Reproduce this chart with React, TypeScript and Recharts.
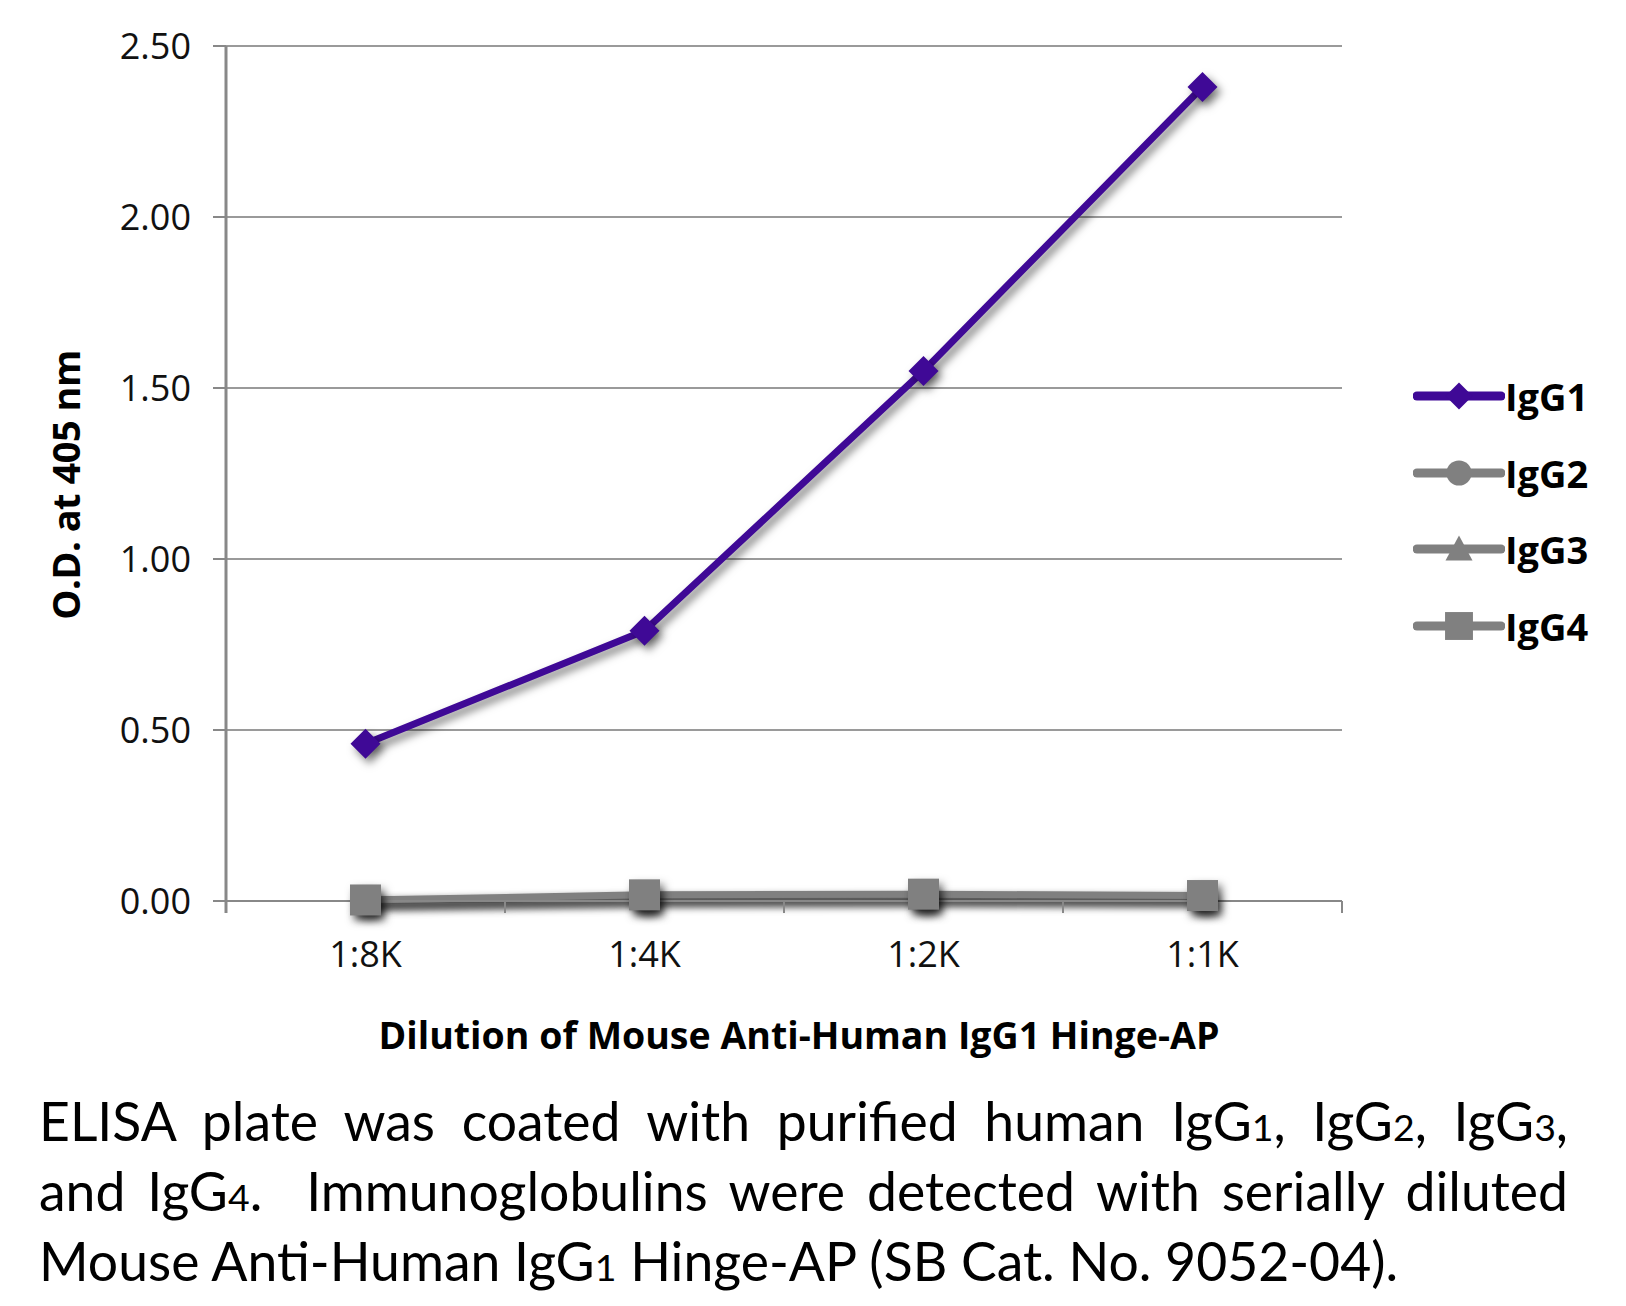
import { LineChart, Line, XAxis, YAxis, CartesianGrid } from "recharts";

const categories = ["1:8K", "1:4K", "1:2K", "1:1K"];
const igg1 = [0.46, 0.79, 1.55, 2.38];
const igg2 = [0.002, 0.01, 0.012, 0.01];
const igg3 = [0.002, 0.012, 0.014, 0.012];
const igg4 = [0.003, 0.018, 0.02, 0.016];
const yTicks = [0, 0.5, 1, 1.5, 2, 2.5];

const PURPLE = "#3f0996";
const GRAY = "#808080";
const AXIS = "#888888";

const data = categories.map((c, i) => ({
  name: c,
  IgG1: igg1[i],
  IgG2: igg2[i],
  IgG3: igg3[i],
  IgG4: igg4[i],
}));

const BAND = 1116 / categories.length;
const SHADOW = "drop-shadow(4px 5px 4px rgba(0,0,0,0.5))";

type Shape = "diamond" | "circle" | "triangle" | "square";

function marker(shape: Shape, cx: number, cy: number, color: string, s = 1) {
  if (shape === "diamond") {
    const r = 15 * s;
    return <path d={`M${cx},${cy - r}L${cx + r},${cy}L${cx},${cy + r}L${cx - r},${cy}Z`} fill={color} />;
  }
  if (shape === "circle") return <circle cx={cx} cy={cy} r={14 * s} fill={color} />;
  if (shape === "triangle") {
    const r = 15 * s;
    return <path d={`M${cx},${cy - r}L${cx + r},${cy + r * 0.85}L${cx - r},${cy + r * 0.85}Z`} fill={color} />;
  }
  const h = 15.5 * s;
  return <rect x={cx - h} y={cy - h} width={h * 2} height={h * 2} fill={color} />;
}

const series: { key: string; color: string; shape: Shape }[] = [
  { key: "IgG2", color: GRAY, shape: "circle" },
  { key: "IgG3", color: GRAY, shape: "triangle" },
  { key: "IgG4", color: GRAY, shape: "square" },
  { key: "IgG1", color: PURPLE, shape: "diamond" },
];

const legendOrder = ["IgG1", "IgG2", "IgG3", "IgG4"];

// x ticks sit on the category boundaries, labels in the middle
function XTick(props: any) {
  const { x, y, payload, index } = props;
  return (
    <g>
      {index === 0 && <line x1={x - BAND / 2} x2={x - BAND / 2} y1={y} y2={y + 12} stroke={AXIS} strokeWidth={3} />}
      <line x1={x + BAND / 2} x2={x + BAND / 2} y1={y} y2={y + 12} stroke={AXIS} strokeWidth={2} />
      <text x={x} y={y + 53} dy="0.35em" textAnchor="middle" fontSize={36} fill="#111" fontFamily="'Open Sans', sans-serif">
        {payload.value}
      </text>
    </g>
  );
}

const sub = { fontSize: "0.7em", lineHeight: 0 };

export default function App() {
  return (
    <div style={{ position: "relative", width: 1610, height: 1290, background: "#fff", fontFamily: "'Open Sans', sans-serif" }}>
      <LineChart width={1610} height={1000} data={data} margin={{ top: 38, right: 276, left: 118, bottom: 47 }}>
        <CartesianGrid vertical={false} stroke="#9a9a9a" strokeWidth={2} />
        <XAxis
          dataKey="name"
          height={60}
          padding={{ left: BAND / 2, right: BAND / 2 }}
          tickSize={0}
          tickMargin={0}
          tickLine={false}
          axisLine={{ stroke: AXIS, strokeWidth: 2 }}
          tick={<XTick />}
          interval={0}
        />
        <YAxis
          width={100}
          domain={[0, 2.5]}
          ticks={yTicks}
          tickFormatter={(v: number) => v.toFixed(2)}
          tickSize={13}
          tickMargin={22}
          axisLine={{ stroke: AXIS, strokeWidth: 3 }}
          tickLine={{ stroke: AXIS, strokeWidth: 2 }}
          tick={{ fontSize: 36, fill: "#111", fontFamily: "'Open Sans', sans-serif" }}
        />
        {series.map((s) => (
          <Line
            key={s.key}
            dataKey={s.key}
            stroke={s.color}
            strokeWidth={7}
            isAnimationActive={false}
            activeDot={false}
            style={{ filter: SHADOW }}
            dot={(p: any) => (
              <g key={`${s.key}-${p.index}`} style={{ filter: SHADOW }}>
                {marker(s.shape, p.cx, p.cy, s.color)}
              </g>
            )}
          />
        ))}
      </LineChart>

      {/* legend */}
      <div style={{ position: "absolute", left: 1405, top: 350 }}>
        {legendOrder.map((k) => {
          const s = series.find((x) => x.key === k)!;
          return (
            <div key={k} style={{ display: "flex", alignItems: "center", height: 76.5 }}>
              <svg width={92} height={40}>
                <line x1={4} x2={88} y1={20} y2={20} stroke={s.color} strokeWidth={9} strokeLinecap="round" />
                {marker(s.shape, 46, 20, s.color, 0.9)}
              </svg>
              <span style={{ fontSize: 38, fontWeight: 700, color: "#000", lineHeight: 1 }}>{k}</span>
            </div>
          );
        })}
      </div>

      {/* axis titles */}
      <div
        style={{
          position: "absolute",
          left: 57,
          top: 477,
          transform: "translate(-50%, -50%) rotate(-90deg)",
          whiteSpace: "nowrap",
          fontSize: 38,
          fontWeight: 700,
          letterSpacing: -0.5,
        }}
      >
        O.D. at 405 nm
      </div>
      <div
        style={{
          position: "absolute",
          left: 791,
          top: 1026,
          transform: "translate(-50%, -50%)",
          whiteSpace: "nowrap",
          fontSize: 37.5,
          fontWeight: 700,
        }}
      >
        Dilution of Mouse Anti-Human IgG1 Hinge-AP
      </div>

      {/* caption */}
      <div style={{ position: "absolute", left: 31, top: 1077, width: 1529, fontFamily: "Lato, sans-serif", fontSize: 53.5, color: "#000" }}>
        <div style={{ height: 70, lineHeight: "70px", textAlign: "justify", textAlignLast: "justify" }}>
          ELISA plate was coated with purified human IgG<span style={sub}>1</span>, IgG<span style={sub}>2</span>, IgG<span style={sub}>3</span>,
        </div>
        <div style={{ height: 70, lineHeight: "70px", textAlign: "justify", textAlignLast: "justify" }}>
          and IgG<span style={sub}>4</span>.&nbsp; Immunoglobulins were detected with serially diluted
        </div>
        <div style={{ height: 70, lineHeight: "70px" }}>
          Mouse Anti-Human IgG<span style={sub}>1</span> Hinge-AP (SB Cat. No. 9052-04).
        </div>
      </div>
    </div>
  );
}
